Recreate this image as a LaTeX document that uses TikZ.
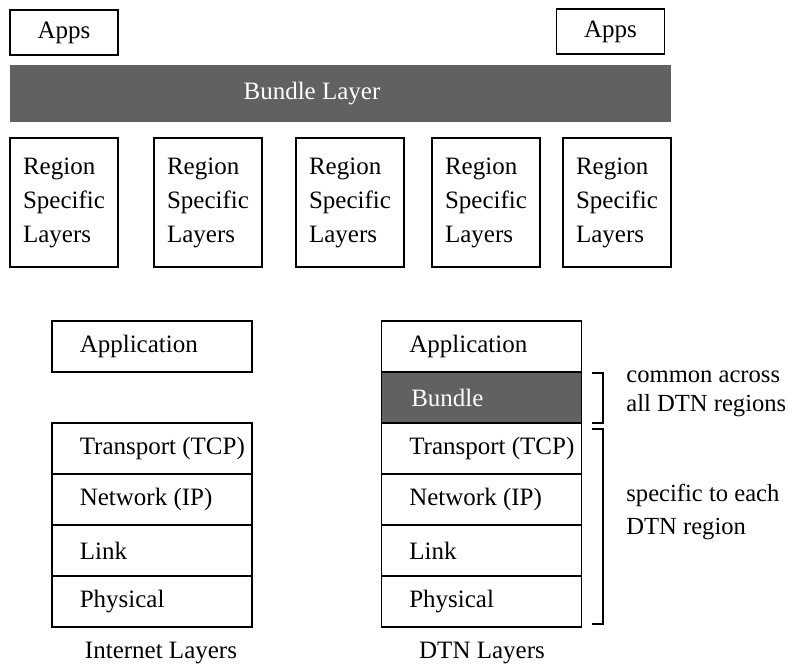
\documentclass[tikz,border=0pt]{standalone}
\usepackage{fontspec}
\setmainfont{Liberation Serif}
\usetikzlibrary{positioning}

\tikzset{
	box/.style={draw, line width=0.6pt, inner sep=0pt},
	appsbox/.style={box, minimum width=54pt, minimum height=22.5pt},
	regionbox/.style={box, minimum width=54pt, minimum height=64.5pt, align=left},
	layerbox/.style={box, minimum width=100pt, minimum height=25.5pt},
	layertext/.style={inner sep=0pt},
	shaded/.style={fill=black!62},
}

\begin{document}
\begin{tikzpicture}[x=0.5pt, y=-0.5pt, font=\fontsize{12.5}{17}\selectfont]

	\useasboundingbox (0,0) rectangle (789,664);

	% apps and bundle layer on top
	\node[appsbox] (appsL) at (64,32.5) {Apps};
	\node[appsbox] (appsR) at (610.5,31.5) {Apps};

	\node[shaded, inner sep=0pt, minimum width=330.5pt, minimum height=28.5pt] (bundlebar) at (340.5,93.5) {};
	\node[text=white] (bundlebartxt) at (312,93.5) {Bundle Layer};

	\foreach \x [count=\i] in {64, 208, 350, 486, 617}
		\node[regionbox] (region\i) at (\x,202.5) {Region\\Specific\\Layers};

	% internet stack
	\node[layerbox] (iapp) at (152,346.5) {};
	\node[layertext, right=14pt of iapp.west] (iapptxt) {Application};
	\foreach \txt [count=\i] in {{Transport (TCP)}, {Network (IP)}, Link, Physical} {
		\node[layerbox] (irow\i) at (152,{397.5+51*\i}) {};
		\node[layertext, right=14pt of irow\i.west] (irowtxt\i) {\txt};
	}
	\node (inetlabel) at (161,653) {Internet Layers};

	% dtn stack
	\node[layerbox] (dapp) at (481.5,346.5) {};
	\node[layertext, right=14pt of dapp.west] (dapptxt) {Application};
	\node[layerbox, shaded] (dbundle) at (481.5,397.5) {};
	\node[layertext, text=white, right=15pt of dbundle.west] (dbundletxt) {Bundle};
	\foreach \txt [count=\i] in {{Transport (TCP)}, {Network (IP)}, Link, Physical} {
		\node[layerbox] (drow\i) at (481.5,{397.5+51*\i}) {};
		\node[layertext, right=14pt of drow\i.west] (drowtxt\i) {\txt};
	}
	\node (dtnlabel) at (482,653) {DTN Layers};

	% brackets
	\draw[line width=0.6pt] (592,373) -- (603,373) -- (603,423) -- (592,423);
	\draw[line width=0.6pt] (592,429) -- (603,429) -- (603,624) -- (592,624);

	\node[anchor=west, align=left, inner sep=0pt, font=\fontsize{12.3}{14.5}\selectfont] (commontxt) at (626,394) {common across\\all DTN regions};
	\node[anchor=west, align=left, inner sep=0pt, font=\fontsize{12.3}{16.5}\selectfont] (specifictxt) at (626,512) {specific to each\\DTN region};

\end{tikzpicture}
\end{document}
